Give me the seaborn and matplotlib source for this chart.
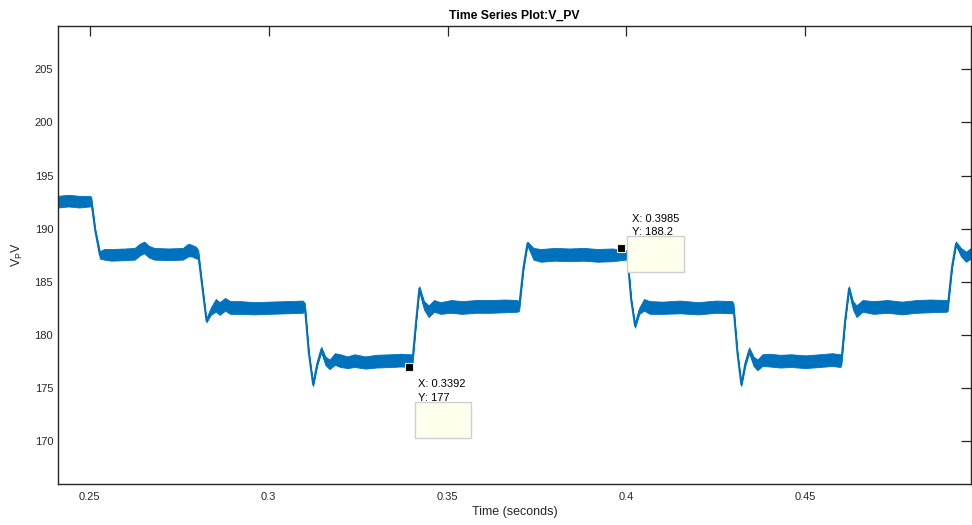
import numpy as np
import pandas as pd
import matplotlib
matplotlib.use("Agg")
import matplotlib.pyplot as plt
import matplotlib.patches as mpatches
import seaborn as sns

# ---- data ----
t = [0.2411, 0.2440, 0.2470, 0.2500, 0.2504, 0.2515, 0.2528,
     0.2540, 0.2560, 0.2600, 0.2625, 0.2640, 0.2652, 0.2665, 0.2680, 0.2720, 0.2760,
     0.2775, 0.2785, 0.2797, 0.2803, 0.2815, 0.2826,
     0.2838, 0.2852, 0.2863, 0.2878, 0.2892, 0.2920, 0.2960, 0.3000, 0.3050, 0.3095,
     0.3101, 0.3112, 0.3124, 0.3136, 0.3147, 0.3158, 0.3170, 0.3185, 0.3200, 0.3220,
     0.3240, 0.3270, 0.3300, 0.3340, 0.3370, 0.3398,
     0.3402, 0.3412, 0.3421, 0.3434, 0.3447, 0.3462, 0.3480, 0.3510, 0.3540, 0.3580,
     0.3620, 0.3660, 0.3695,
     0.3700, 0.3712, 0.3723, 0.3740, 0.3760, 0.3800, 0.3840, 0.3880, 0.3920, 0.3960, 0.3998,
     0.4002, 0.4013, 0.4024, 0.4036, 0.4049, 0.4065, 0.4100, 0.4150, 0.4200, 0.4250, 0.4295,
     0.4299, 0.4310, 0.4321, 0.4332, 0.4343, 0.4355, 0.4366, 0.4380, 0.4400, 0.4430,
     0.4460, 0.4500, 0.4540, 0.4575, 0.4598,
     0.4601, 0.4611, 0.4622, 0.4633, 0.4643, 0.4660, 0.4690, 0.4730, 0.4770, 0.4810,
     0.4850, 0.4895,
     0.4898, 0.4910, 0.4921, 0.4935, 0.4949, 0.4963]
v_upper = [193.1, 193.2, 193.1, 193.1, 193.0, 190.0, 187.9,
           188.1, 188.1, 188.15, 188.2, 188.6, 188.8, 188.4, 188.2, 188.15, 188.2,
           188.6, 188.5, 188.3, 188.0, 184.5, 181.5,
           182.6, 183.4, 183.1, 183.5, 183.2, 183.2, 183.1, 183.15, 183.2, 183.25,
           183.0, 178.5, 175.5, 177.5, 178.9, 178.0, 177.7, 178.3, 178.2, 178.0,
           178.2, 178.0, 178.15, 178.2, 178.25, 178.2,
           178.0, 181.5, 184.6, 183.2, 182.8, 183.3, 183.1, 183.3, 183.2, 183.3,
           183.3, 183.35, 183.3,
           183.1, 186.5, 188.8, 188.2, 188.1, 188.2, 188.15, 188.2, 188.1, 188.15, 188.0,
           187.8, 183.5, 181.0, 182.6, 183.4, 183.2, 183.15, 183.25, 183.1, 183.25, 183.2,
           183.0, 178.5, 175.5, 177.5, 178.85, 178.0, 177.7, 178.2, 178.25, 178.15,
           178.2, 178.1, 178.2, 178.3, 178.2,
           178.0, 181.5, 184.6, 183.2, 182.8, 183.3, 183.2, 183.3, 183.15, 183.3,
           183.35, 183.3,
           183.1, 186.6, 188.8, 188.2, 187.85, 188.2]
v_lower = [192.0, 192.1, 192.0, 192.1, 192.2, 189.7, 187.2,
           187.1, 187.0, 187.05, 187.1, 187.5, 187.7, 187.3, 187.1, 187.05, 187.1,
           187.4, 187.4, 187.2, 187.2, 184.2, 181.2,
           181.9, 182.2, 181.9, 182.3, 182.0, 182.0, 181.95, 182.0, 182.05, 182.1,
           182.3, 178.2, 175.2, 177.2, 178.4, 177.2, 176.8, 177.2, 177.0, 176.9,
           177.0, 176.85, 176.95, 177.0, 177.05, 177.0,
           177.3, 181.2, 184.2, 182.4, 181.7, 182.2, 182.0, 182.1, 182.0, 182.1,
           182.1, 182.15, 182.2,
           182.3, 186.2, 188.4, 187.1, 186.9, 187.0, 186.95, 187.0, 186.9, 186.95, 187.1,
           187.3, 183.2, 180.7, 182.0, 182.3, 182.0, 182.0, 182.05, 181.95, 182.1, 182.05,
           182.3, 178.2, 175.2, 177.1, 178.3, 177.1, 176.7, 177.1, 177.05, 176.95,
           177.0, 176.9, 177.0, 177.1, 177.0,
           177.3, 181.2, 184.2, 182.4, 181.7, 182.2, 182.0, 182.1, 181.95, 182.1,
           182.15, 182.2,
           182.3, 186.3, 188.4, 187.4, 186.9, 187.2]

tip_x = [0.3392, 0.3985]
tip_y = [177.0, 188.2]
tip_labels = [("X: 0.3392", "Y: 177"), ("X: 0.3985", "Y: 188.2")]

x_ticks = [0.25, 0.3, 0.35, 0.4, 0.45]
x_tick_labels = ["0.25", "0.3", "0.35", "0.4", "0.45"]
y_ticks = [170, 175, 180, 185, 190, 195, 200, 205]

df = pd.DataFrame({"t": t, "hi": v_upper, "lo": v_lower})
df["mid"] = (df["hi"] + df["lo"]) / 2

# ---- style ----
sns.set_style("white")
plt.rcParams["font.family"] = ["Liberation Sans", "DejaVu Sans"]
plt.rcParams["mathtext.fontset"] = "custom"
plt.rcParams["mathtext.rm"] = "Liberation Sans"
plt.rcParams["mathtext.it"] = "Liberation Sans"

TXT = "#262626"
BLUE = "#0072BD"

fig = plt.figure(figsize=(9.72, 5.25), dpi=100)
ax = fig.add_axes([58 / 972, 1 - 484 / 525, (971 - 58) / 972, (484 - 26) / 525])

ax.fill_between(df["t"], df["lo"], df["hi"], color=BLUE, linewidth=0.6, edgecolor=BLUE, zorder=2)
sns.lineplot(data=df, x="t", y="mid", ax=ax, color=BLUE, linewidth=1.4, zorder=2,
             sort=False, estimator=None)

ax.set_xlim(0.2411, 0.4963)
ax.set_ylim(166.0, 209.07)
ax.set_xticks(x_ticks)
ax.set_xticklabels(x_tick_labels)
ax.set_yticks(y_ticks)

for sp in ax.spines.values():
    sp.set_visible(True)
    sp.set_color(TXT)
    sp.set_linewidth(1.0)

ax.tick_params(axis="both", which="both", direction="in", length=7, width=0.9,
               color=TXT, labelcolor=TXT, labelsize=8, top=True, right=True)
ax.tick_params(axis="x", pad=6)
ax.tick_params(axis="y", pad=3.5)

ax.set_xlabel("Time (seconds)", fontsize=9, color=TXT, labelpad=3)
ax.set_ylabel("V$_\\mathregular{P}$V", fontsize=9, color=TXT, labelpad=7)
ax.set_title("Time Series Plot:V_PV", fontsize=8.8, fontweight="bold", color="black", pad=5)

# ---- data tips ----
def offset_data(xd, yd, dx, dy):
    disp = ax.transData.transform((xd, yd))
    return ax.transData.inverted().transform((disp[0] + dx, disp[1] - dy))

# offsets in pixels (image y downwards): text1, text2, box (x0, y0, x1, y1)
tip_layout = [
    dict(tx=9, ty1=17, ty2=31, box=(6, 35, 62, 71)),
    dict(tx=11, ty1=-29, ty2=-16, box=(6, -12, 63, 24)),
]
for (xd, yd), (l1, l2), lay in zip(zip(tip_x, tip_y), tip_labels, tip_layout):
    p1 = offset_data(xd, yd, lay["tx"], lay["ty1"])
    p2 = offset_data(xd, yd, lay["tx"], lay["ty2"])
    ax.text(p1[0], p1[1], l1, fontsize=8, color="black", va="center", ha="left", zorder=5)
    ax.text(p2[0], p2[1], l2, fontsize=8, color="black", va="center", ha="left", zorder=5)
    x0, y0, x1, y1 = lay["box"]
    a = offset_data(xd, yd, x0, y1)
    b = offset_data(xd, yd, x1, y0)
    ax.add_patch(mpatches.Rectangle((a[0], a[1]), b[0] - a[0], b[1] - a[1],
                                    facecolor="#FFFFEE", edgecolor="#CFCFCF",
                                    linewidth=1.0, zorder=6))
    ax.plot([xd], [yd], marker="s", markersize=5.6, color="black",
            markeredgecolor="#EEEED0", markeredgewidth=0.8, zorder=7, linestyle="none")

fig.savefig("out.png", dpi=100)
